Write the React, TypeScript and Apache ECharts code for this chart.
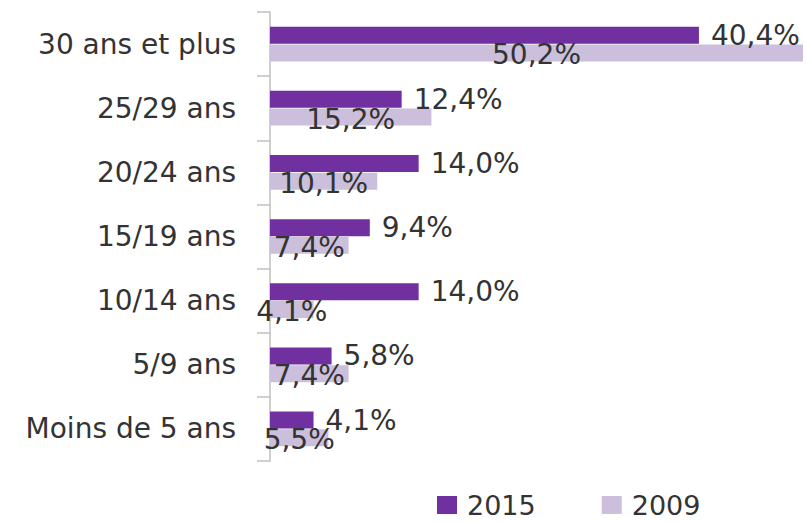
import React, { useEffect, useRef } from "react";
import * as echarts from "echarts";

const categories = [
  "Moins de 5 ans",
  "5/9 ans",
  "10/14 ans",
  "15/19 ans",
  "20/24 ans",
  "25/29 ans",
  "30 ans et plus",
];
const values2015 = [4.1, 5.8, 14.0, 9.4, 14.0, 12.4, 40.4];
const values2009 = [5.5, 7.4, 4.1, 7.4, 10.1, 15.2, 50.2];
const seriesNames = ["2015", "2009"];

const FONT = "DejaVu Sans";
const fmt = (v: number) => v.toFixed(1).replace(".", ",") + "%";

export default function App() {
  const ref = useRef<HTMLDivElement>(null);
  useEffect(() => {
    if (!ref.current) return;
    const chart = echarts.init(ref.current, undefined, { renderer: "svg" });
    chart.setOption({
      animation: false,
      backgroundColor: "#ffffff",
      textStyle: { fontFamily: FONT },
      grid: { left: 270, top: 12, bottom: 62, right: 3, containLabel: false },
      legend: {
        left: 437,
        top: 491,
        padding: 0,
        itemWidth: 20,
        itemHeight: 18,
        itemGap: 66,
        icon: "rect",
        textStyle: {
          fontFamily: FONT,
          fontSize: 27,
          lineHeight: 28,
          color: "#333333",
          padding: [0, 0, 0, 5],
        },
        data: seriesNames,
      },
      xAxis: {
        type: "value",
        min: 0,
        max: "dataMax",
        show: false,
      },
      yAxis: {
        type: "category",
        data: categories,
        axisLine: { show: true, lineStyle: { color: "#BFBFBF", width: 1.5 } },
        axisTick: { show: true, length: 13, lineStyle: { color: "#BFBFBF", width: 1.5 } },
        axisLabel: {
          fontFamily: FONT,
          fontSize: 28,
          color: "#333333",
          margin: 34,
        },
      },
      series: [
        {
          name: seriesNames[0],
          type: "bar",
          data: values2015,
          barWidth: 17,
          barGap: "4%",
          itemStyle: { color: "#7030A0" },
          label: {
            show: true,
            position: "right",
            distance: 12,
            fontFamily: FONT,
            fontSize: 28,
            color: "#333333",
            formatter: (p: any) => fmt(p.value),
          },
        },
        {
          name: seriesNames[1],
          type: "bar",
          data: values2009,
          barWidth: 17,
          barGap: "4%",
          itemStyle: { color: "#CBBFDB" },
          label: {
            show: true,
            position: "inside",
            offset: [0, 2],
            fontFamily: FONT,
            fontSize: 28,
            color: "#333333",
            formatter: (p: any) => fmt(p.value),
          },
        },
      ],
    });
    return () => chart.dispose();
  }, []);
  return (
    <div
      ref={ref}
      style={{ position: "fixed", left: 0, top: 0, width: 806, height: 523 }}
    />
  );
}
